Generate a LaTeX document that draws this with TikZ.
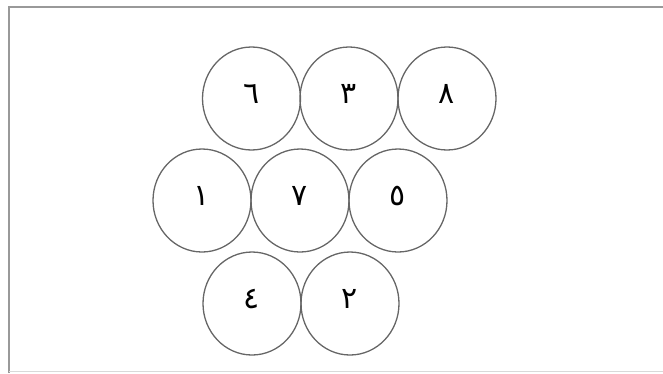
\documentclass[tikz,border=0pt]{standalone}
\usepackage{fontspec}
\usetikzlibrary{shapes.geometric}
\TeXXeTstate=1
\newfontfamily\arabicfont[Script=Arabic]{DejaVu Sans}

\begin{document}
\begin{tikzpicture}[x=1pt,y=-1pt,
  disc/.style={ellipse,draw=black!60,line width=1.3pt,minimum width=98pt,minimum height=103pt,
    inner sep=0pt,text height=10pt,text depth=0pt,font=\arabicfont\fontsize{30}{32}\selectfont}]
\useasboundingbox (0,0) rectangle (663,373);
% frame
\draw[black!40,line width=2pt] (9,373) -- (9,7) -- (663,7);
\draw[black!15,line width=1.2pt] (9,371.5) -- (663,371.5);
% top row
\node[disc] (six) at (251.5,98.5) {\beginR ٦\endR};
\node[disc] (three) at (349,98.5) {\beginR ٣\endR};
\node[disc] (eight) at (447,98.5) {\beginR ٨\endR};
% middle row
\node[disc] (one) at (202,200.5) {\beginR ١\endR};
\node[disc] (seven) at (300,200.5) {\beginR ٧\endR};
\node[disc] (five) at (398,200.5) {\beginR ٥\endR};
% bottom row
\node[disc] (four) at (252,303.5) {\beginR ٤\endR};
\node[disc] (two) at (350,303.5) {\beginR ٢\endR};
\end{tikzpicture}
\end{document}
